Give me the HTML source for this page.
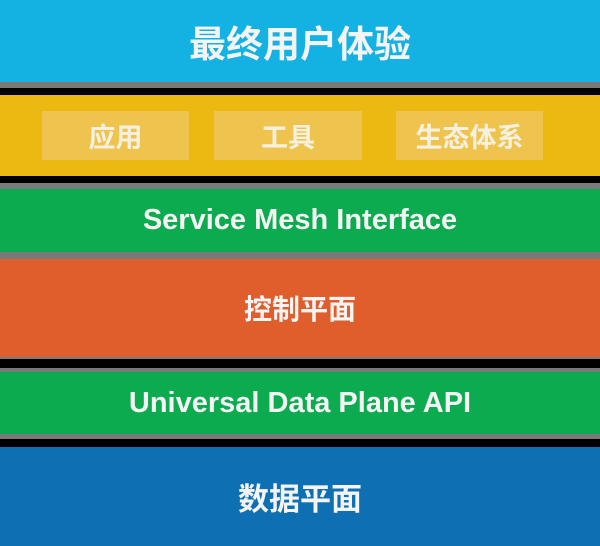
<!DOCTYPE html>
<html><head><meta charset="utf-8"><style>
body{margin:0;width:600px;height:546px;position:relative;overflow:hidden;background:#000;font-family:"Liberation Sans","Noto Sans CJK SC",sans-serif;font-weight:bold;color:#f4f4f4}
div{position:absolute;left:0;width:600px;display:flex;align-items:center;justify-content:center}
.g{background:#7a7a7a}
.box{background:#eec44f;width:auto;color:#f6f0e0;font-size:27px}
</style></head><body>
<div style="top:0;height:82px;background:#13b2e2;font-size:37px">最终用户体验</div>
<div class="g" style="top:82px;height:6px"></div>
<div style="top:95px;height:81px;background:#ecb913"></div>
<div class="box" style="left:42px;width:147px;top:111px;height:49px">应用</div>
<div class="box" style="left:214px;width:148px;top:111px;height:49px">工具</div>
<div class="box" style="left:396px;width:147px;top:111px;height:49px">生态体系</div>
<div class="g" style="top:183px;height:6px"></div>
<div style="top:189px;height:63px;background:#0cab4f;font-size:29px">Service Mesh Interface</div>
<div class="g" style="top:252px;height:7px"></div>
<div style="top:259px;height:98px;background:#e05d2c;font-size:28px">控制平面</div>
<div class="g" style="top:357px;height:2px"></div>
<div class="g" style="top:368px;height:4px"></div>
<div style="top:372px;height:62px;background:#0cab4f;font-size:29px">Universal Data Plane API</div>
<div class="g" style="top:434px;height:5px"></div>
<div style="top:447px;height:99px;background:#0e6fb2;font-size:31px">数据平面</div>
</body></html>
